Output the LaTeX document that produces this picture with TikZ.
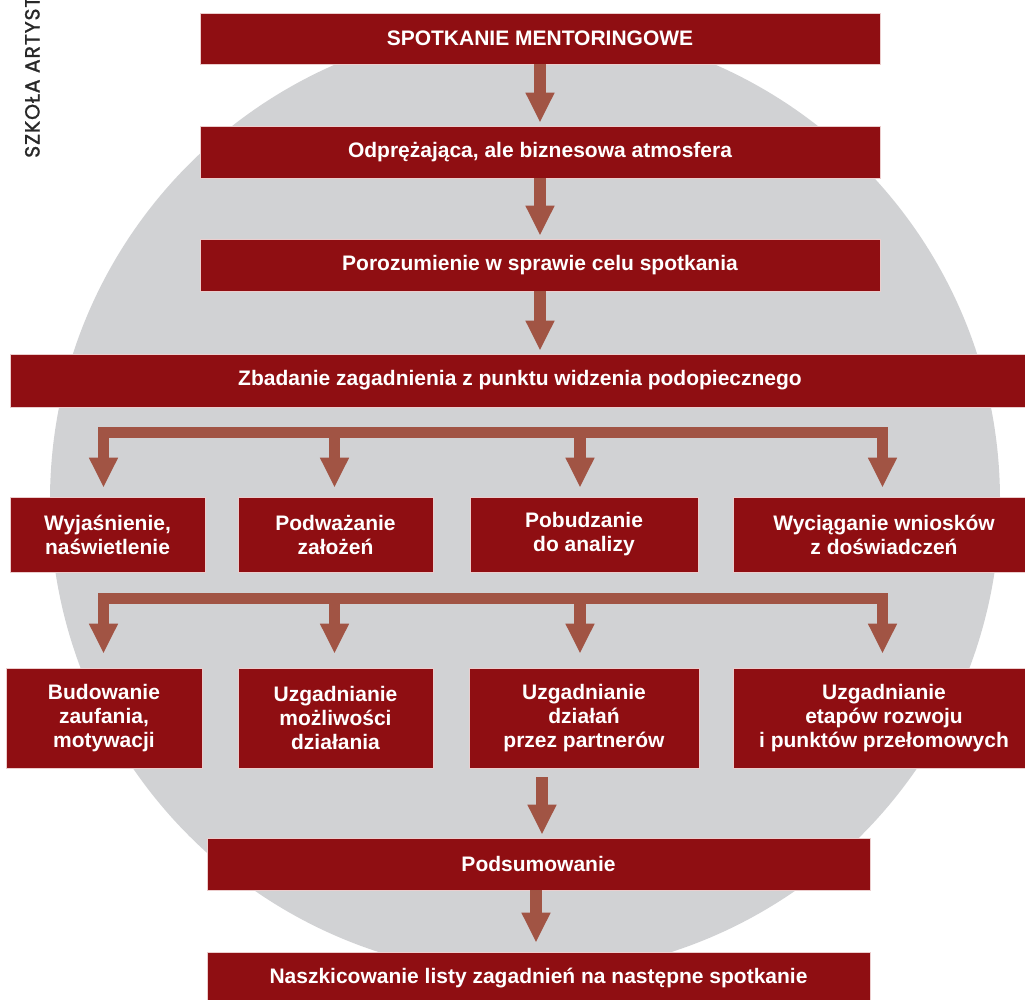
\documentclass[tikz,border=0pt]{standalone}
\usepackage{fontspec}
\setmainfont{Liberation Sans}
\newfontfamily\brandfont{Poppins}[FakeBold=1.2, LetterSpace=4]
\usetikzlibrary{arrows.meta}

\definecolor{boxred}{RGB}{143,14,18}
\definecolor{flowbrown}{RGB}{161,84,68}
\definecolor{discgray}{RGB}{209,210,212}
\definecolor{edgepink}{RGB}{236,205,205}
\definecolor{brandgray}{RGB}{40,40,40}

\begin{document}
\begin{tikzpicture}[x=1pt,y=-1pt,
  stepbox/.style={rectangle, fill=boxred, draw=edgepink, line width=0.8pt,
    inner sep=0pt, text=white, align=center,
    font=\fontsize{21}{24}\selectfont\bfseries},
  widebox/.style={stepbox, minimum height=52pt},
  row1box/.style={stepbox, minimum height=75pt},
  row2box/.style={stepbox, minimum height=100pt},
  flow/.style={draw=flowbrown, line width=11.5pt, line join=miter,
    -{Triangle[width=27pt,length=30pt]}},
]
\useasboundingbox (0,0) rectangle (1025,999);

% background disc
\fill[discgray] (525,500) circle[radius=475pt];

% side label
\node[rotate=90, anchor=base west, inner sep=0pt, text=brandgray,
  font=\brandfont\fontsize{20.5}{24}\selectfont] (brand) at (39.5,158) {SZKOŁA ARTYST};

% main sequence
\node[widebox, minimum width=680pt, minimum height=51pt] (s1) at (540,38.5) {SPOTKANIE MENTORINGOWE};
\node[widebox, minimum width=680pt] (s2) at (540,152) {Odprężająca, ale biznesowa atmosfera};
\node[widebox, minimum width=680pt] (s3) at (540,265) {Porozumienie w sprawie celu spotkania};
\node[widebox, minimum width=1020pt, minimum height=53pt] (s4) at (520,380.5) {Zbadanie zagadnienia z punktu widzenia podopiecznego};

% first row of activities
\node[row1box, minimum width=195pt] (a1) at (107.5,534.5) {Wyjaśnienie,\\naświetlenie};
\node[row1box, minimum width=195pt] (b1) at (335.5,534.5) {Podważanie\\założeń};
\node[row1box, minimum width=228pt] (c1) at (584,534.5) {Pobudzanie\\do analizy};
\node[row1box, minimum width=302pt] (d1) at (884,534.5) {Wyciąganie wniosków\\z doświadczeń};

% second row of activities
\node[row2box, minimum width=196pt] (a2) at (104,718) {Budowanie\\zaufania,\\motywacji};
\node[row2box, minimum width=195pt] (b2) at (335.5,718) {Uzgadnianie\\możliwości\\działania};
\node[row2box, minimum width=230pt] (c2) at (584,718) {Uzgadnianie\\działań\\przez partnerów};
\node[row2box, minimum width=302pt] (d2) at (884,718) {Uzgadnianie\\etapów rozwoju\\i punktów przełomowych};

% closing steps
\node[widebox, minimum width=663pt] (sum) at (538.5,864) {Podsumowanie};
\node[widebox, minimum width=663pt] (last) at (538.5,978) {Naszkicowanie listy zagadnień na następne spotkanie};

% columns of the branch arrows and junctions of the branch bars
\coordinate (cA) at (103.5,0);
\coordinate (cB) at (334.5,0);
\coordinate (cC) at (580,0);
\coordinate (cD) at (882.5,0);
\coordinate (cP) at (542,0);
\coordinate (cQ) at (536,0);
\coordinate (j1) at (490,432.5);
\coordinate (j2) at (490,598.5);

% straight arrows
\draw[flow, shorten >=3pt] (s1) -- (s2);
\draw[flow, shorten >=3pt] (s2) -- (s3);
\draw[flow, shorten >=3pt] (s3.south) -- (s3.south |- s4.north);

% branch into first row
\draw[flow, shorten >=9pt] (j1) -| (cA |- a1.north);
\draw[flow, shorten >=9pt] (j1) -| (cD |- d1.north);
\draw[flow, shorten >=9pt] (cB |- j1) -- (cB |- b1.north);
\draw[flow, shorten >=9pt] (cC |- j1) -- (cC |- c1.north);

% branch into second row
\draw[flow, shorten >=14pt] (j2) -| (cA |- a2.north);
\draw[flow, shorten >=14pt] (j2) -| (cD |- d2.north);
\draw[flow, shorten >=14pt] (cB |- j2) -- (cB |- b2.north);
\draw[flow, shorten >=14pt] (cC |- j2) -- (cC |- c2.north);

% towards the summary
\draw[flow, shorten <=9pt, shorten >=3pt] (cP |- c2.south) -- (cP |- sum.north);
\draw[flow, shorten >=9pt] (cQ |- sum.south) -- (cQ |- last.north);
\end{tikzpicture}
\end{document}
